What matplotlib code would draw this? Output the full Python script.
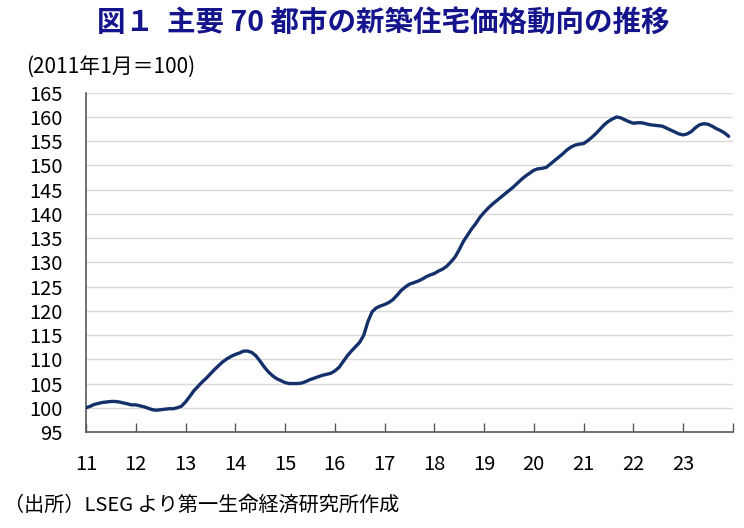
import numpy as np
import matplotlib
matplotlib.use('Agg')
import matplotlib.pyplot as plt

plt.rcParams['font.family'] = ['Noto Sans CJK JP', 'DejaVu Sans']

# 主要70都市の新築住宅価格指数（2011年1月＝100）、月次
idx_2011 = [100.0, 100.3, 100.7, 100.9, 101.1, 101.2, 101.3, 101.3, 101.2, 101.0, 100.8, 100.6]
idx_2012 = [100.6, 100.4, 100.2, 99.9, 99.6, 99.5, 99.6, 99.7, 99.8, 99.8, 100.0, 100.3]
idx_2013 = [101.2, 102.3, 103.5, 104.4, 105.3, 106.1, 107.0, 107.9, 108.7, 109.5, 110.1, 110.6]
idx_2014 = [111.0, 111.3, 111.7, 111.7, 111.4, 110.7, 109.6, 108.4, 107.4, 106.6, 106.0, 105.6]
idx_2015 = [105.2, 105.0, 105.0, 105.0, 105.1, 105.4, 105.8, 106.1, 106.4, 106.7, 106.9, 107.1]
idx_2016 = [107.6, 108.3, 109.5, 110.7, 111.7, 112.6, 113.5, 115.0, 117.8, 119.8, 120.6, 121.0]
idx_2017 = [121.3, 121.7, 122.3, 123.2, 124.2, 124.9, 125.5, 125.8, 126.1, 126.5, 127.0, 127.4]
idx_2018 = [127.7, 128.2, 128.6, 129.2, 130.1, 131.1, 132.6, 134.3, 135.6, 136.9, 138.0, 139.3]
idx_2019 = [140.3, 141.2, 142.0, 142.7, 143.4, 144.1, 144.8, 145.5, 146.3, 147.1, 147.8, 148.4]
idx_2020 = [149.0, 149.3, 149.4, 149.6, 150.3, 151.0, 151.7, 152.4, 153.2, 153.8, 154.2, 154.4]
idx_2021 = [154.5, 155.1, 155.8, 156.6, 157.5, 158.4, 159.1, 159.6, 160.0, 159.8, 159.4, 159.0]
idx_2022 = [158.7, 158.8, 158.8, 158.6, 158.4, 158.3, 158.2, 158.1, 157.7, 157.3, 156.9, 156.5]
idx_2023 = [156.3, 156.5, 157.0, 157.8, 158.4, 158.6, 158.5, 158.1, 157.6, 157.2, 156.7, 156.0]

years = list(range(2011, 2024))
year_labels = ['11', '12', '13', '14', '15', '16', '17', '18', '19', '20', '21', '22', '23']

values = (idx_2011 + idx_2012 + idx_2013 + idx_2014 + idx_2015 + idx_2016 + idx_2017
          + idx_2018 + idx_2019 + idx_2020 + idx_2021 + idx_2022 + idx_2023)
x = 2011 + np.arange(len(values)) / 12

fig = plt.figure(figsize=(7.44, 5.28), dpi=100)
ax = fig.add_axes([0.1156, 0.1818, 0.8694, 0.6426])

ax.plot(x, values, color='#13306b', lw=2.4, solid_capstyle='round', zorder=3)

ax.set_xlim(2011, 2024)
ax.set_ylim(95, 165)
ax.set_yticks(np.arange(95, 166, 5))
ax.yaxis.grid(True, color='#d9d9d9', lw=1.0)
ax.set_axisbelow(True)

ax.set_xticks(range(2011, 2025))
ax.set_xticklabels(year_labels + [''])
ax.tick_params(axis='x', direction='in', length=6.5, width=1, color='#595959',
               pad=16, labelsize=14.5)
ax.tick_params(axis='y', length=0, pad=17, labelsize=14.5)

for s in ['top', 'right']:
    ax.spines[s].set_visible(False)
for s in ['left', 'bottom']:
    ax.spines[s].set_color('#595959')
    ax.spines[s].set_linewidth(1.2)

fig.text(0.515, 0.956, '図１  主要 70 都市の新築住宅価格動向の推移', ha='center', va='center',
         fontsize=20.5, fontweight='bold', color='#14148c')
fig.text(0.035, 0.873, '(2011年1月＝100)', ha='left', va='center', fontsize=15)
fig.text(0.005, 0.043, '（出所）LSEG より第一生命経済研究所作成', ha='left', va='center', fontsize=14.5)

fig.savefig('out.png', dpi=100)
